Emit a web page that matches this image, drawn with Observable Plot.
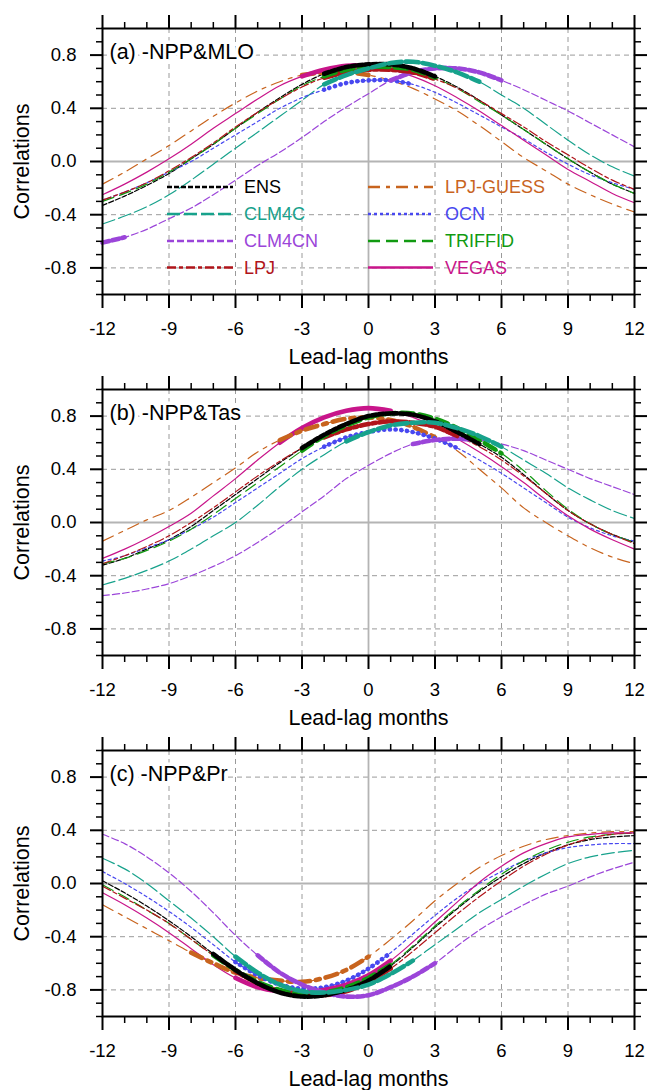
<!DOCTYPE html>
<html><head><meta charset="utf-8">
<script src="https://cdn.jsdelivr.net/npm/d3@7"></script>
<script src="https://cdn.jsdelivr.net/npm/@observablehq/plot@0.6"></script>
<style>
body{margin:0;background:#fff;}
#chart svg{display:block;}
</style>
</head><body><div id="chart"></div>
<script>
// ---------- categories ----------
const months = [-12,-11,-10,-9,-8,-7,-6,-5,-4,-3,-2,-1,0,1,2,3,4,5,6,7,8,9,10,11,12];
const models = ["ENS","LPJ-GUESS","CLM4C","OCN","CLM4CN","TRIFFID","LPJ","VEGAS"];
const colors = ["#000000","#c8641e","#17a28c","#4848f0","#9b45d9","#119a11","#b0141a","#c8158a"];
const dashes = ["5,2","12,6,4,6","13,4","3,3","7,3","12,6","9,3,4,3","none"];
const xMajor = [-12,-9,-6,-3,0,3,6,9,12];
const yMajor = [-0.8,-0.4,0,0.4,0.8];
const panelLabels = ["(a) -NPP&MLO","(b) -NPP&Tas","(c) -NPP&Pr"];

// ---------- panel (a) -NPP&MLO ----------
const a_ENS      = [-0.33,-0.26,-0.18,-0.09,0.02,0.13,0.25,0.37,0.48,0.58,0.66,0.71,0.73,0.73,0.70,0.64,0.56,0.46,0.35,0.24,0.13,0.02,-0.08,-0.17,-0.24];
const a_LPJGUESS = [-0.17,-0.08,0.02,0.12,0.23,0.34,0.44,0.53,0.60,0.65,0.67,0.67,0.65,0.61,0.55,0.47,0.38,0.27,0.15,0.03,-0.07,-0.17,-0.25,-0.32,-0.38];
const a_CLM4C    = [-0.47,-0.41,-0.34,-0.25,-0.14,-0.02,0.10,0.22,0.34,0.46,0.58,0.65,0.70,0.74,0.75,0.72,0.67,0.60,0.50,0.40,0.28,0.16,0.05,-0.04,-0.11];
const a_OCN      = [-0.29,-0.23,-0.16,-0.08,0.00,0.10,0.20,0.30,0.40,0.48,0.54,0.59,0.61,0.61,0.58,0.52,0.44,0.35,0.26,0.17,0.07,-0.02,-0.10,-0.16,-0.21];
const a_CLM4CN   = [-0.61,-0.57,-0.51,-0.43,-0.35,-0.25,-0.14,-0.03,0.07,0.18,0.30,0.41,0.51,0.61,0.67,0.70,0.70,0.67,0.61,0.54,0.46,0.38,0.29,0.20,0.11];
const a_TRIFFID  = [-0.30,-0.24,-0.17,-0.08,0.02,0.13,0.25,0.36,0.47,0.57,0.64,0.69,0.71,0.71,0.69,0.63,0.55,0.45,0.35,0.24,0.13,0.02,-0.08,-0.17,-0.24];
const a_LPJ      = [-0.29,-0.23,-0.16,-0.07,0.03,0.14,0.26,0.37,0.47,0.56,0.63,0.67,0.69,0.69,0.67,0.62,0.55,0.46,0.36,0.26,0.15,0.05,-0.05,-0.14,-0.21];
const a_VEGAS    = [-0.25,-0.17,-0.08,0.02,0.13,0.25,0.36,0.47,0.57,0.64,0.69,0.72,0.72,0.69,0.64,0.57,0.48,0.38,0.27,0.16,0.05,-0.06,-0.15,-0.24,-0.31];
const sigA = [["LPJ-GUESS",-3,0],["OCN",-2,2],["CLM4CN",1,6],["CLM4CN",-12,-11],["VEGAS",-3,0],["LPJ",-2,3],["TRIFFID",-2,3],["ENS",-2,3],["CLM4C",-2,5]];

// ---------- panel (b) -NPP&Tas ----------
const b_ENS      = [-0.32,-0.27,-0.20,-0.13,-0.03,0.09,0.21,0.33,0.45,0.56,0.66,0.74,0.80,0.82,0.81,0.76,0.68,0.59,0.49,0.36,0.22,0.09,-0.01,-0.09,-0.15];
const b_LPJGUESS = [-0.14,-0.06,0.02,0.09,0.19,0.30,0.41,0.53,0.62,0.69,0.74,0.78,0.79,0.77,0.72,0.64,0.54,0.40,0.26,0.11,0.00,-0.10,-0.19,-0.26,-0.31];
const b_CLM4C    = [-0.47,-0.42,-0.36,-0.29,-0.20,-0.10,0.00,0.13,0.27,0.40,0.51,0.61,0.68,0.73,0.75,0.75,0.71,0.65,0.57,0.47,0.37,0.26,0.17,0.09,0.03];
const b_OCN      = [-0.29,-0.25,-0.19,-0.13,-0.05,0.04,0.15,0.26,0.37,0.48,0.57,0.64,0.68,0.70,0.68,0.63,0.56,0.47,0.37,0.26,0.15,0.04,-0.04,-0.10,-0.14];
const b_CLM4CN   = [-0.55,-0.53,-0.50,-0.46,-0.40,-0.33,-0.25,-0.15,-0.04,0.08,0.20,0.33,0.43,0.52,0.59,0.62,0.63,0.62,0.59,0.54,0.47,0.40,0.33,0.27,0.21];
const b_TRIFFID  = [-0.31,-0.27,-0.21,-0.14,-0.05,0.06,0.18,0.30,0.42,0.54,0.65,0.73,0.79,0.82,0.82,0.78,0.71,0.62,0.52,0.39,0.24,0.10,-0.01,-0.09,-0.15];
const b_LPJ      = [-0.31,-0.25,-0.18,-0.10,0.00,0.11,0.23,0.35,0.46,0.56,0.64,0.70,0.74,0.76,0.75,0.72,0.65,0.57,0.47,0.35,0.22,0.09,-0.01,-0.09,-0.16];
const b_VEGAS    = [-0.27,-0.20,-0.12,-0.03,0.07,0.20,0.33,0.47,0.60,0.71,0.79,0.84,0.86,0.84,0.79,0.72,0.63,0.53,0.42,0.30,0.17,0.05,-0.05,-0.13,-0.20];
const sigB = [["VEGAS",-4,1],["LPJ-GUESS",-4,3],["OCN",-2,4],["CLM4CN",2,5],["LPJ",-2,4],["TRIFFID",-3,6],["ENS",-3,5],["CLM4C",-1,6]];

// ---------- panel (c) -NPP&Pr ----------
const c_ENS      = [0.02,-0.07,-0.17,-0.28,-0.40,-0.53,-0.65,-0.75,-0.82,-0.85,-0.84,-0.80,-0.73,-0.62,-0.48,-0.33,-0.19,-0.06,0.05,0.15,0.23,0.29,0.33,0.35,0.36];
const c_LPJGUESS = [-0.16,-0.25,-0.34,-0.43,-0.52,-0.60,-0.67,-0.71,-0.73,-0.74,-0.71,-0.65,-0.55,-0.42,-0.28,-0.13,0.00,0.12,0.21,0.28,0.33,0.36,0.38,0.39,0.39];
const c_CLM4C    = [0.19,0.11,0.00,-0.13,-0.26,-0.40,-0.55,-0.67,-0.76,-0.81,-0.82,-0.80,-0.76,-0.68,-0.58,-0.46,-0.34,-0.22,-0.12,-0.02,0.07,0.15,0.20,0.23,0.25];
const c_OCN      = [0.09,0.00,-0.10,-0.21,-0.33,-0.46,-0.59,-0.69,-0.76,-0.79,-0.78,-0.73,-0.64,-0.52,-0.38,-0.24,-0.11,0.00,0.09,0.17,0.23,0.27,0.29,0.30,0.30];
const c_CLM4CN   = [0.37,0.30,0.20,0.08,-0.06,-0.22,-0.39,-0.54,-0.67,-0.76,-0.82,-0.85,-0.84,-0.78,-0.70,-0.60,-0.47,-0.35,-0.25,-0.16,-0.08,-0.02,0.05,0.11,0.16];
const c_TRIFFID  = [-0.01,-0.10,-0.20,-0.30,-0.42,-0.54,-0.65,-0.74,-0.80,-0.83,-0.82,-0.78,-0.71,-0.61,-0.47,-0.32,-0.18,-0.05,0.07,0.17,0.25,0.31,0.35,0.37,0.38];
const c_LPJ      = [-0.02,-0.11,-0.20,-0.30,-0.42,-0.54,-0.66,-0.75,-0.81,-0.84,-0.84,-0.81,-0.74,-0.64,-0.51,-0.37,-0.23,-0.10,0.02,0.13,0.22,0.29,0.34,0.37,0.38];
const c_VEGAS    = [-0.07,-0.16,-0.26,-0.37,-0.49,-0.61,-0.71,-0.78,-0.81,-0.82,-0.80,-0.76,-0.69,-0.58,-0.44,-0.29,-0.14,0.01,0.13,0.23,0.30,0.35,0.37,0.38,0.38];
const sigC = [["LPJ-GUESS",-8,0],["OCN",-6,1],["VEGAS",-6,1],["LPJ",-6,1],["TRIFFID",-7,1],["CLM4CN",-5,3],["ENS",-7,1],["CLM4C",-6,2]];

const panelSeries = [
  [a_ENS,a_LPJGUESS,a_CLM4C,a_OCN,a_CLM4CN,a_TRIFFID,a_LPJ,a_VEGAS],
  [b_ENS,b_LPJGUESS,b_CLM4C,b_OCN,b_CLM4CN,b_TRIFFID,b_LPJ,b_VEGAS],
  [c_ENS,c_LPJGUESS,c_CLM4C,c_OCN,c_CLM4CN,c_TRIFFID,c_LPJ,c_VEGAS]
];
const panelSig = [sigA, sigB, sigC];

const FONT = "'Liberation Sans', Arial, Helvetica, sans-serif";
const xMinor = months.filter(m => !xMajor.includes(m));
const yMinor = d3.range(-10, 11).map(v => v / 10).filter(v => !yMajor.some(t => Math.abs(t - v) < 1e-9));
const fmtY = d => (Math.abs(d) < 1e-9 ? "0.0" : d.toFixed(1));
const blank = () => "";

function makePanel(p) {
  const series = panelSeries[p];
  const rows = models.map((m, i) => months.map((mo, j) => ({model: m, month: mo, r: series[i][j]})));
  const gridStyle = {stroke: "#9a9a9a", strokeOpacity: 1, strokeWidth: 1, strokeDasharray: "5,4"};
  const marks = [
    Plot.gridX([-9,-6,-3,3,6,9], gridStyle),
    Plot.gridY([-0.8,-0.4,0.4,0.8], gridStyle),
    Plot.ruleX([0], {stroke: "#b4b4b4", strokeWidth: 1.8}),
    Plot.ruleY([0], {stroke: "#b4b4b4", strokeWidth: 1.8})
  ];
  // thin full lines
  models.forEach((m, i) => {
    marks.push(Plot.line(rows[i], {x: "month", y: "r", stroke: colors[i], strokeWidth: 1.2,
      strokeDasharray: dashes[i], curve: "catmull-rom"}));
  });
  // thick significant segments
  panelSig[p].forEach(([m, s, e]) => {
    const i = models.indexOf(m);
    const isDot = m === "OCN";
    marks.push(Plot.line(rows[i].filter(d => d.month >= s && d.month <= e), {
      x: "month", y: "r", stroke: colors[i], strokeWidth: 4.6,
      strokeDasharray: isDot ? "0.1,5.6" : dashes[i],
      strokeLinecap: "round", curve: "catmull-rom"}));
  });
  marks.push(
    Plot.frame({stroke: "black", strokeWidth: 2}),
    // x axes
    Plot.axisX(xMajor, {anchor: "bottom", tickSize: 14, tickPadding: 13, strokeWidth: 2, fontSize: 18.5,
      tickFormat: d => String(d), label: null}),
    Plot.axisX(xMinor, {anchor: "bottom", tickSize: 7, strokeWidth: 1.5, tickFormat: blank, label: null}),
    Plot.axisX(xMajor, {anchor: "top", tickSize: 14, strokeWidth: 2, tickFormat: blank, label: null}),
    Plot.axisX(xMinor, {anchor: "top", tickSize: 7, strokeWidth: 1.5, tickFormat: blank, label: null}),
    // y axes
    Plot.axisY(yMajor, {anchor: "left", tickSize: 12, tickPadding: 14, strokeWidth: 2, fontSize: 18.5,
      tickFormat: fmtY, label: null}),
    Plot.axisY(yMinor, {anchor: "left", tickSize: 6, strokeWidth: 1.5, tickFormat: blank, label: null}),
    Plot.axisY(yMajor, {anchor: "right", tickSize: 12, strokeWidth: 2, tickFormat: blank, label: null}),
    Plot.axisY(yMinor, {anchor: "right", tickSize: 6, strokeWidth: 1.5, tickFormat: blank, label: null}),
    // titles
    Plot.text(["Lead-lag months"], {frameAnchor: "bottom", dy: 63, text: d => d, fontSize: 21.5,
      textAnchor: "middle", lineAnchor: "middle", fill: "black"}),
    Plot.text(["Correlations"], {frameAnchor: "left", dx: -80, rotate: -90, text: d => d, fontSize: 21.5,
      textAnchor: "middle", lineAnchor: "middle", fill: "black"}),
    Plot.text([panelLabels[p]], {frameAnchor: "top-left", dx: 7, dy: 24, text: d => d, fontSize: 21.5,
      textAnchor: "start", lineAnchor: "middle", fill: "black", stroke: "white", strokeWidth: 7, paintOrder: "stroke"})
  );
  const h = p === 2 ? 368 : 361;
  const svg = Plot.plot({
    width: 648, height: h,
    marginLeft: 102, marginRight: 14, marginTop: 28, marginBottom: h - 294,
    x: {domain: [-12, 12], label: null},
    y: {domain: [-1, 1], label: null},
    style: {fontFamily: FONT, background: "white", overflow: "visible", color: "black"},
    marks
  });
  return svg;
}

const chart = document.getElementById("chart");
const svgs = [0, 1, 2].map(p => { const s = makePanel(p); chart.appendChild(s); return s; });

// ---------- legend inside panel (a) ----------
const legendRowsY = [187, 214, 241, 267.5];
const legendCols = [{x0: 167, x1: 233, tx: 244, items: ["ENS","CLM4C","CLM4CN","LPJ"]},
                    {x0: 368, x1: 433, tx: 445, items: ["LPJ-GUESS","OCN","TRIFFID","VEGAS"]}];
const lg = d3.select(svgs[0]).append("g").attr("font-family", FONT).attr("font-size", 18)
  .attr("text-anchor", "start");
legendCols.forEach(col => {
  col.items.forEach((m, k) => {
    const i = models.indexOf(m);
    const y = legendRowsY[k];
    lg.append("line").attr("x1", col.x0).attr("x2", col.x1).attr("y1", y).attr("y2", y)
      .attr("stroke", colors[i]).attr("stroke-width", 2.4)
      .attr("stroke-dasharray", dashes[i] === "none" ? null : dashes[i]);
    lg.append("text").attr("x", col.tx).attr("y", y).attr("dy", "0.36em")
      .attr("text-anchor", "start").attr("fill", colors[i]).text(m);
  });
});
</script>
</body></html>
